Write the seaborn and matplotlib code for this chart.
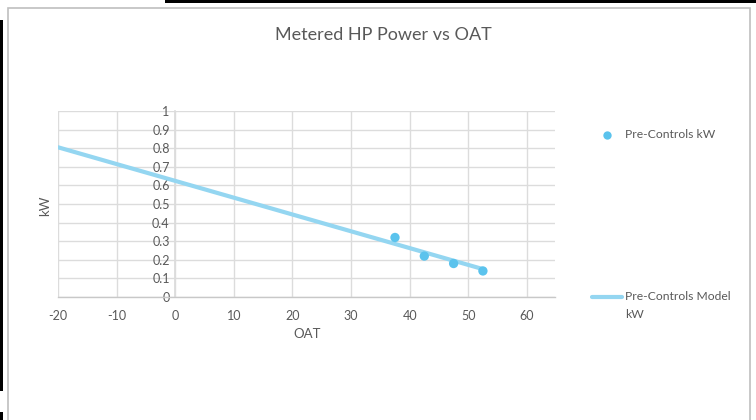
import matplotlib
matplotlib.use("Agg")
import matplotlib.pyplot as plt
import seaborn as sns
import pandas as pd
from matplotlib.lines import Line2D
from matplotlib.patches import Rectangle

# Metered readings (outdoor air temperature, kW)
oat_measured = [37.5, 42.5, 47.5, 52.5]
kw_measured = [0.32, 0.22, 0.18, 0.14]

# Fitted model line endpoints
oat_model = [-20, 52.5]
kw_model = [0.805, 0.150]

x_ticks = [-20, -10, 0, 10, 20, 30, 40, 50, 60]
y_ticks = [0, 0.1, 0.2, 0.3, 0.4, 0.5, 0.6, 0.7, 0.8, 0.9, 1]
y_tick_labels = ["0", "0.1", "0.2", "0.3", "0.4", "0.5", "0.6", "0.7", "0.8", "0.9", "1"]

sns.set_theme(style="white")
plt.rcParams["font.family"] = ["Lato", "DejaVu Sans"]

text_gray = "#595959"
grid_gray = "#dcdcdc"
point_color = "#5bc3ed"
line_color = "#94d6f1"

fig = plt.figure(figsize=(7.56, 4.2), dpi=100)
W, H = 756, 420
ax = fig.add_axes([58 / W, 1 - 297 / H, (555 - 58) / W, (297 - 111) / H])

measured = pd.DataFrame({"OAT": oat_measured, "kW": kw_measured})
model = pd.DataFrame({"OAT": oat_model, "kW": kw_model})

sns.lineplot(data=model, x="OAT", y="kW", ax=ax, color=line_color,
             linewidth=3, zorder=3, legend=False)
sns.scatterplot(data=measured, x="OAT", y="kW", ax=ax, color=point_color,
                s=45, edgecolor="none", zorder=4, legend=False)

ax.set_xlim(-20, 64.8)
ax.set_ylim(0, 1)
ax.set_xticks(x_ticks)
ax.set_xticklabels([str(v) for v in x_ticks])
ax.set_yticks(y_ticks)
ax.set_yticklabels(y_tick_labels)
ax.grid(True, color=grid_gray, linewidth=1)
ax.set_axisbelow(True)

for side in ["top", "right"]:
    ax.spines[side].set_visible(False)
ax.spines["left"].set_position(("data", 0))
ax.spines["left"].set_color(grid_gray)
ax.spines["bottom"].set_color("#c8c8c8")
ax.spines["bottom"].set_linewidth(1)

ax.tick_params(axis="both", length=0, labelsize=9, labelcolor=text_gray)
ax.tick_params(axis="x", pad=9)
ax.tick_params(axis="y", pad=4)
for lbl in ax.get_yticklabels():
    lbl.set_horizontalalignment("right")

ax.set_xlabel("")
ax.set_ylabel("")
fig.text(307 / W, 1 - 334 / H, "OAT", ha="center", va="center",
         fontsize=9.5, color=text_gray)
fig.text(45 / W, 1 - 206 / H, "kW", rotation=90, ha="center", va="center",
         fontsize=9.5, color=text_gray)

fig.text(383 / W, 1 - 35 / H, "Metered HP Power vs OAT", ha="center",
         va="center", fontsize=13, color=text_gray)

# Legend entries placed at the right of the plot
fig.add_artist(Line2D([607 / W], [1 - 135 / H], marker="o", markersize=6,
                      color=point_color, markeredgecolor="none",
                      linestyle="none", transform=fig.transFigure))
fig.text(625 / W, 1 - 135 / H, "Pre-Controls kW", ha="left", va="center",
         fontsize=8.7, color=text_gray)
fig.add_artist(Line2D([592 / W, 622 / W], [1 - 297 / H, 1 - 297 / H],
                      color=line_color, linewidth=3,
                      transform=fig.transFigure))
fig.text(625 / W, 1 - 297 / H, "Pre-Controls Model", ha="left", va="center",
         fontsize=8.7, color=text_gray)
fig.text(625 / W, 1 - 315 / H, "kW", ha="left", va="center",
         fontsize=8.7, color=text_gray)

# Chart area border and surrounding frame edges
fig.add_artist(Rectangle((8 / W, -0.01), (750 - 8) / W, (420 - 8) / H + 0.01,
                         transform=fig.transFigure, fill=False,
                         edgecolor="#bfbfbf", linewidth=1.2))
fig.add_artist(Rectangle((0, 1 - 391 / H), 3 / W, (391 - 20) / H,
                         transform=fig.transFigure, color="black", lw=0))
fig.add_artist(Rectangle((0, 0), 3 / W, (420 - 412) / H,
                         transform=fig.transFigure, color="black", lw=0))
fig.add_artist(Rectangle((165 / W, 1 - 2.5 / H), (756 - 165) / W, 2.5 / H,
                         transform=fig.transFigure, color="black", lw=0))

fig.savefig("out.png", dpi=100, facecolor="white")
